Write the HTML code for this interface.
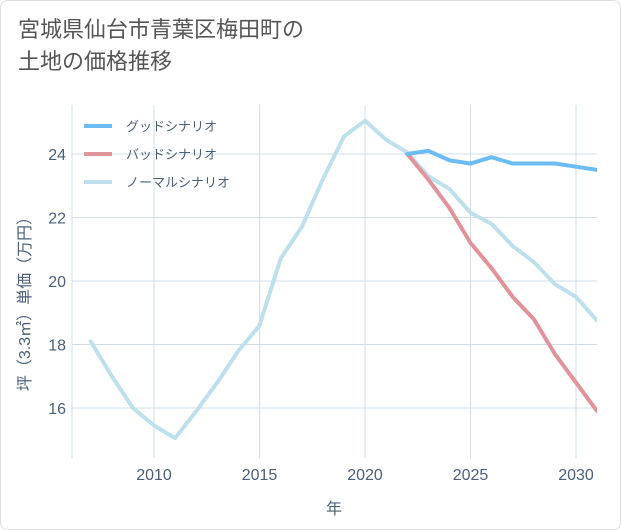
<!DOCTYPE html>
<html><head><meta charset="utf-8"><style>
body{margin:0;background:#fff;font-family:"Liberation Sans","Noto Sans CJK JP",sans-serif;}
#card{position:absolute;left:0;top:0;width:619px;height:528px;border:1px solid #ddd;border-radius:8px;background:#fff;}
#title{position:absolute;left:18px;top:14px;font-size:22px;line-height:32px;color:#555;}
svg{position:absolute;left:0;top:0;}
</style></head><body>
<div id="card"></div>
<div id="title">宮城県仙台市青葉区梅田町の<br>土地の価格推移</div>
<svg id="chart" width="621" height="530"></svg>
<script>
const years=[2007,2008,2009,2010,2011,2012,2013,2014,2015,2016,2017,2018,2019,2020,2021,2022,2023,2024,2025,2026,2027,2028,2029,2030,2031];
const normalVals=[18.1,17.0,16.0,15.45,15.05,15.9,16.8,17.8,18.6,20.7,21.7,23.2,24.55,25.05,24.45,24.05,23.3,22.9,22.15,21.8,21.1,20.6,19.9,19.5,18.75];
const goodYears=[2022,2023,2024,2025,2026,2027,2028,2029,2030,2031];
const goodVals=[24.0,24.1,23.8,23.7,23.9,23.7,23.7,23.7,23.6,23.5];
const badVals=[24.0,23.2,22.3,21.2,20.4,19.5,18.8,17.7,16.8,15.9];
const xTicks=[2010,2015,2020,2025,2030];
const yTicks=[16,18,20,22,24];
const legendLabels=["グッドシナリオ","バッドシナリオ","ノーマルシナリオ"];
const colors=["#6bbcf3","#e0939a","#bde0ec"];
const L=72,R=597,T=105,B=458;
const x=v=>154+(v-2010)*(576-154)/20;
const y=v=>154+(24-v)*(408-154)/8;
const NS="http://www.w3.org/2000/svg";
const svg=document.getElementById('chart');
function mk(t,a){const e=document.createElementNS(NS,t);for(const k in a)e.setAttribute(k,a[k]);svg.appendChild(e);return e;}
xTicks.forEach(v=>{
const g=mk('line',{x1:x(v),x2:x(v),y1:T,y2:B,stroke:'#cfdde8','stroke-width':1});


const t=mk('text',{x:x(v),y:B+22,'text-anchor':'middle','font-size':16,fill:'#4a5f7a'});t.textContent=v;


});
yTicks.forEach(v=>{
const g=mk('line',{x1:L,x2:R,y1:y(v),y2:y(v),stroke:'#cfdde8','stroke-width':1});


const t=mk('text',{x:L-6,y:y(v)+6,'text-anchor':'end','font-size':16,fill:'#4a5f7a'});t.textContent=v;


});
const ax=mk('line',{x1:L,x2:L,y1:T,y2:B,stroke:'#cfdde8'});


function line(xs,vs,c,name){
const p=mk('polyline',{points:xs.map((yr,i)=>x(yr)+','+y(vs[i])).join(' '),fill:'none',stroke:c,'stroke-width':4,'stroke-linejoin':'round','stroke-linecap':'round','clip-path':'url(#clip)'});


}
const d=mk('clipPath',{id:'clip'});const cr=document.createElementNS(NS,'rect');
cr.setAttribute('x',L);cr.setAttribute('y',T-5);cr.setAttribute('width',R-L);cr.setAttribute('height',B-T+10);d.appendChild(cr);
line(years,normalVals,colors[2],'normal-scenario-line');
line(goodYears,badVals,colors[1],'bad-scenario-line');
line(goodYears,goodVals,colors[0],'good-scenario-line');
legendLabels.forEach((lb,i)=>{
const ly=126+i*28;
const l=mk('line',{x1:84,x2:112,y1:ly,y2:ly,stroke:colors[i],'stroke-width':4});


const t=mk('text',{x:126,y:ly+5,'font-size':13,fill:'#4a5f7a'});t.textContent=lb;


});
const xt=mk('text',{x:334,y:514,'text-anchor':'middle','font-size':16,fill:'#4a5f7a'});xt.textContent='年';


const yt=mk('text',{x:0,y:0,'text-anchor':'middle','font-size':16,fill:'#4a5f7a',transform:'translate(30,300) rotate(-90)'});yt.textContent='坪（3.3㎡）単価（万円）';


</script>
</body></html>
